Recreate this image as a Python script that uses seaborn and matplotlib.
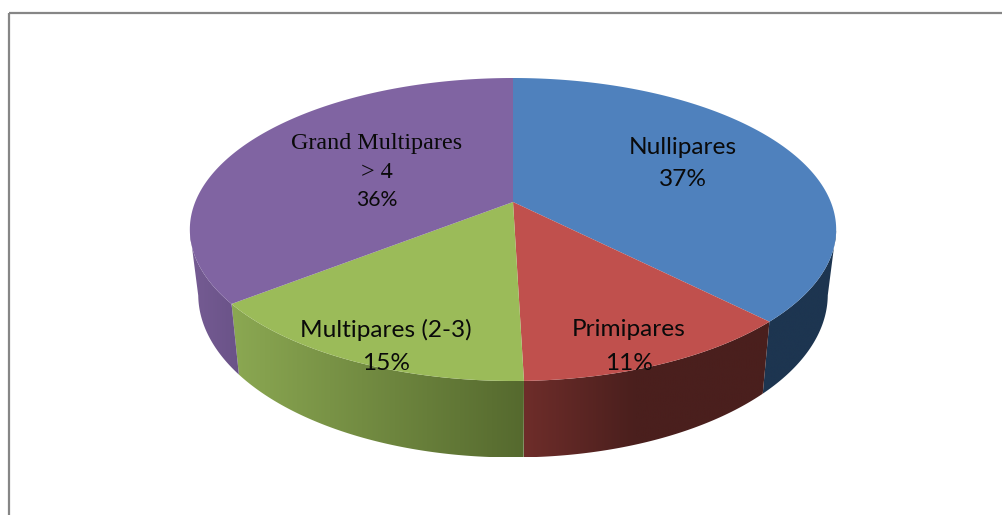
import numpy as np
import matplotlib
matplotlib.use("Agg")
import matplotlib.pyplot as plt
from matplotlib.colors import LinearSegmentedColormap
from matplotlib.patches import Polygon, Rectangle
from matplotlib.path import Path
from matplotlib.transforms import Affine2D, Transform
import seaborn as sns

categories = ["Nullipares", "Primipares", "Multipares (2-3)", "Grand Multipares\n> 4"]
shares = [37.6, 11.95, 14.85, 35.6]        # slice sizes as drawn
printed = [37, 11, 15, 36]                 # percentages as printed on the chart
top_colors = ["#4f81bd", "#c0504d", "#9bbb59", "#8064a2"]
wall_left = ["#1d3550", "#6e2d2a", "#8ba852", "#755c93"]
wall_right = ["#1d3550", "#4a1f1d", "#55692e", "#6a5288"]
wall_reach = [1.0, 2.2, 1.0, 1.0]

CX, CY = 513.0, 202.0
R, A, C = 317.8, -109.84, 0.1815


class Perspective(Transform):
    input_dims = output_dims = 2
    is_separable = False
    has_inverse = False

    def transform_non_affine(self, values):
        values = np.asarray(values, dtype=float)
        u, v = values[:, 0], values[:, 1]
        w = 1 + C * v
        return np.column_stack([CX + R * u / w, (CY + A * v) / w])

    def transform_path_non_affine(self, path):
        polys = path.to_polygons(Affine2D().scale(3000), closed_only=False)
        verts = np.vstack(polys) / 3000.0
        return Path(self.transform_non_affine(verts))


sns.set_theme(style="white")
fig = plt.figure(figsize=(10.02, 5.15), dpi=100, facecolor="white")
ax = fig.add_axes([0, 0, 1, 1])
wedges, _ = ax.pie(shares, colors=top_colors, startangle=90, counterclock=False,
                   wedgeprops={"linewidth": 0})
ax.set_aspect("auto")
ax.set_xlim(0, 1002)
ax.set_ylim(515, 0)
ax.axis("off")

proj = Perspective()
for wedge in wedges:
    wedge.set_transform(proj + ax.transData)
    wedge.set_zorder(3)

# side wall: the visible part of each slice's rim, down to the lower ellipse
for wedge, c_l, c_r, reach in zip(wedges, wall_left, wall_right, wall_reach):
    t = np.radians(np.linspace(wedge.theta1, wedge.theta2, 400))
    top = proj.transform_non_affine(np.column_stack([np.cos(t), np.sin(t)]))
    top = top[top[:, 1] >= 230]
    bottom = np.column_stack([CX + (top[:, 0] - CX) * 0.974,
                              295 + (top[:, 1] - 230) * 163 / 151.5])
    outline = np.vstack([top, bottom[::-1]])
    clip = Polygon(outline, closed=True, transform=ax.transData, fc="none", ec="none")
    ax.add_patch(clip)
    x0, x1 = outline[:, 0].min(), outline[:, 0].max()
    y0, y1 = outline[:, 1].min(), outline[:, 1].max()
    cmap = LinearSegmentedColormap.from_list("wall", [c_l, c_r])
    stop = np.clip(np.linspace(0, 1, 256) * reach, 0, 1)
    img = ax.imshow(stop[None, :], cmap=cmap, vmin=0, vmax=1, aspect="auto",
                    extent=(x0, x1, y1, y0), zorder=2, interpolation="bilinear")
    img.set_clip_path(clip)

ax.set_xlim(0, 1002)
ax.set_ylim(515, 0)

ax.add_patch(Rectangle((9.5, 12.5), 1100, 600, fill=False, ec="#868686", lw=1.6, zorder=1))

sans = ["Lato", "Open Sans", "DejaVu Sans"]
serif = ["Liberation Serif", "DejaVu Serif"]
ts = 17.6
kw = dict(ha="center", va="center", color="#0a0a0a", zorder=6)
ax.text(683, 147, categories[0], fontsize=ts, family=sans, **kw)
ax.text(683, 180, f"{printed[0]}%", fontsize=ts, family=sans, **kw)
ax.text(629, 330, categories[1], fontsize=ts, family=sans, **kw)
ax.text(629, 363, f"{printed[1]}%", fontsize=ts, family=sans, **kw)
ax.text(386, 330, categories[2], fontsize=ts, family=sans, **kw)
ax.text(386, 363, f"{printed[2]}%", fontsize=ts, family=sans, **kw)
line1, line2 = categories[3].split("\n")
ax.text(377, 144, line1, fontsize=17.4, family=serif, **kw)
ax.text(377, 172, line2, fontsize=17.4, family=serif, **kw)
ax.text(377, 200, f"{printed[3]}%", fontsize=15.2, family=sans, **kw)

fig.savefig("out.png", dpi=100, facecolor="white")
